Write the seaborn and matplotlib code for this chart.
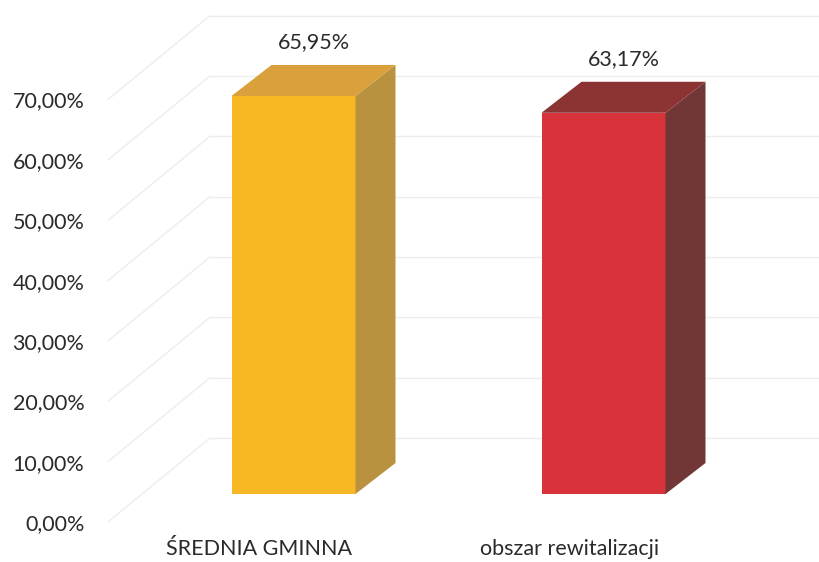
import numpy as np
import pandas as pd
import matplotlib
matplotlib.use("Agg")
import matplotlib.pyplot as plt
import matplotlib.transforms as mtransforms
from matplotlib.patches import Polygon
import seaborn as sns

# data
categories = ["ŚREDNIA GMINNA", "obszar rewitalizacji"]
values = [65.95, 63.17]
tick_values = [0, 10, 20, 30, 40, 50, 60, 70]

front_colors = ["#F8B823", "#D8323A"]
top_colors = ["#D9A03C", "#8C3434"]
side_colors = ["#B8923F", "#713636"]

sns.set_theme(style="white")
plt.rcParams["font.family"] = ["Lato", "DejaVu Sans"]

W, H, DPI = 819, 562, 100
PX_PER_PCT = 6.035   # vertical pixels per percent point
PX_PER_CAT = 310     # pixels between category centres
BAR_X0 = 293.5       # pixel x of the first category (front plane)
BAR_Y0 = 494         # pixel y of 0% on the bar front plane
AX_LEFT = 142
FS = 15.5
TXT = "#2a2a2a"
GRID = "#ededed"

fig = plt.figure(figsize=(W / DPI, H / DPI), dpi=DPI)
ax = fig.add_axes([AX_LEFT / W, (H - BAR_Y0) / H, (W - AX_LEFT) / W, BAR_Y0 / H])

df = pd.DataFrame({"cat": categories, "val": values})
sns.barplot(data=df, x="cat", y="val", hue="cat", palette=front_colors,
            width=0.4, legend=False, ax=ax, saturation=1, zorder=3,
            linewidth=0, edgecolor="none")

ax.set_xlim((AX_LEFT - BAR_X0) / PX_PER_CAT, (W - BAR_X0) / PX_PER_CAT)
ax.set_ylim(0, BAR_Y0 / PX_PER_PCT)

# 3D depth offsets (pixels) -> data units
def dx(px):
    return px / PX_PER_CAT

def dy(px):
    return px / PX_PER_PCT

bar_ddx, bar_ddy = dx(40), dy(31)
for i, p in enumerate(ax.patches):
    x0, w, h = p.get_x(), p.get_width(), p.get_height()
    side = Polygon([(x0 + w, 0), (x0 + w + bar_ddx, bar_ddy),
                    (x0 + w + bar_ddx, h + bar_ddy), (x0 + w, h)],
                   closed=True, facecolor=side_colors[i], edgecolor="none", zorder=3)
    top = Polygon([(x0, h), (x0 + bar_ddx, h + bar_ddy),
                   (x0 + w + bar_ddx, h + bar_ddy), (x0 + w, h)],
                  closed=True, facecolor=top_colors[i], edgecolor="none", zorder=3)
    ax.add_patch(side)
    ax.add_patch(top)
    ax.text(x0 + (w + bar_ddx) / 2, h + bar_ddy + dy(13),
            f"{values[i]:.2f}".replace(".", ",") + "%",
            ha="center", va="bottom", fontsize=FS, color=TXT)

# gridlines: left side wall diagonal + back wall horizontal
x_front = ax.get_xlim()[0]
for v in tick_values:
    wall_x, wall_y = x_front + dx(68), v + dy(56)
    ax.plot([x_front - dx(34), wall_x], [v - dy(28), wall_y],
            color=GRID, lw=1, zorder=1, clip_on=False)
    ax.plot([wall_x, ax.get_xlim()[1]], [wall_y, wall_y],
            color=GRID, lw=1, zorder=1, clip_on=False)

ax.set_yticks(tick_values)
ax.set_yticklabels([f"{v:.2f}".replace(".", ",") + "%" for v in tick_values])
ax.tick_params(axis="y", length=0, pad=17, labelsize=FS, labelcolor=TXT)
ax.tick_params(axis="x", length=0, pad=12, labelsize=FS, labelcolor=TXT)
ax.set_xlabel("")
ax.set_ylabel("")
for s in ax.spines.values():
    s.set_visible(False)

# shift labels onto the front (floor) plane of the 3D box
shift = mtransforms.ScaledTranslation(-34 / DPI, -28 / DPI, fig.dpi_scale_trans)
for lab in ax.get_yticklabels() + ax.get_xticklabels():
    lab.set_transform(lab.get_transform() + shift)

fig.savefig("out.png", dpi=DPI)
